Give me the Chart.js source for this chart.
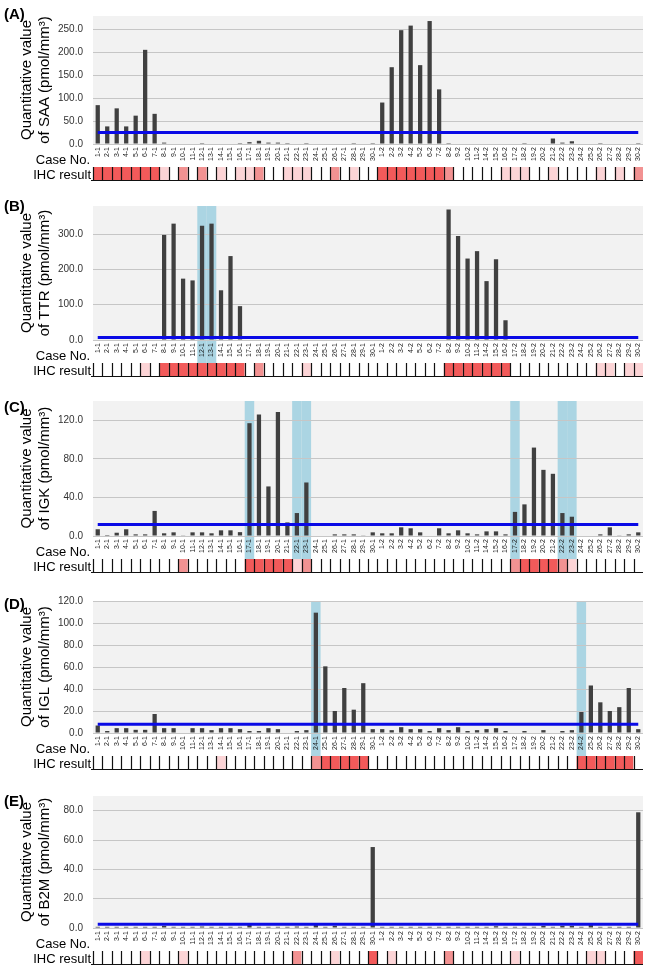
<!DOCTYPE html>
<html>
<head>
<meta charset="utf-8">
<script src="https://cdn.jsdelivr.net/npm/chart.js@4"></script>
<style>
  body { margin: 0; background: #fff; }
  #wrap { position: relative; width: 650px; height: 970px; }
  canvas { position: absolute; left: 0; }
</style>
</head>
<body>
<div id="wrap">
  <canvas id="panelA" width="650" height="190" style="top:0px"></canvas>
  <canvas id="panelB" width="650" height="195" style="top:190px"></canvas>
  <canvas id="panelC" width="650" height="200" style="top:385px"></canvas>
  <canvas id="panelD" width="650" height="195" style="top:585px"></canvas>
  <canvas id="panelE" width="650" height="190" style="top:780px"></canvas>
</div>
<script>
// case numbers (12-2 and 13-2 are not in the series)
const cases = [
  '1-1','2-1','3-1','4-1','5-1','6-1','7-1','8-1','9-1','10-1',
  '11-1','12-1','13-1','14-1','15-1','16-1','17-1','18-1','19-1','20-1',
  '21-1','22-1','23-1','24-1','25-1','26-1','27-1','28-1','29-1','30-1',
  '1-2','2-2','3-2','4-2','5-2','6-2','7-2','8-2','9-2','10-2',
  '11-2','14-2','15-2','16-2','17-2','18-2','19-2','20-2','21-2','22-2',
  '23-2','24-2','25-2','26-2','27-2','28-2','29-2','30-2'
];

// quantitative values (pmol/mm3)
const saa = [85, 38.5, 78, 38.5, 62, 206, 66, 3, 0, 0, 0, 2, 0, 0, 0, 2, 4, 7, 3, 3, 2, 0, 2, 0, 0, 0, 0, 2, 0, 2,
  90.7, 168, 249, 259, 172.5, 269, 119.5, 2, 0, 0, 0, 0, 0, 0, 0, 2, 0, 0, 12, 3, 6, 0, 0, 2, 0, 0, 0, 2];
const ttr = [0, 0, 0, 0, 0, 1.5, 0, 298, 330, 174, 169, 324, 330, 141, 238, 96,
  0, 0, 0, 0, 0, 1.5, 1.5, 0, 0, 1.5, 0, 1.5, 1.5, 0,
  0, 0, 0, 0, 0, 0, 0, 370, 295, 231, 252, 167, 229, 56,
  0, 0, 1.5, 1.5, 0, 1.5, 1.5, 1.5, 0, 0, 1.5, 1.5, 1.5, 0];
const igk = [7, 1, 3.4, 7, 1.7, 1.7, 26, 2.8, 3.8, 0.7, 3.8, 3.8, 2.8, 5.9, 5.9, 4, 117, 126, 51.4, 128.6, 14.1, 23.8, 55.5, 0,
  0, 1.7, 1.7, 1.7, 0.7, 3.8, 2.8, 2.8, 9, 8, 3.8, 0, 8, 2.8, 5.9, 2.8, 1.7, 4.8, 4.8, 1.7,
  25, 32.8, 91.7, 68.6, 64.5, 23.8, 20, 0, 0, 1.7, 9, 0.7, 1.7, 3.8];
const igl = [6.8, 1.8, 4.4, 4.4, 2.9, 2.9, 17.3, 4.4, 4.4, 0, 4.4, 4.4, 2.6, 4.4, 4.4, 3.5, 1.8, 1.8, 4.4, 3.5, 0, 1.8, 2.6, 109.4,
  60.6, 20, 40.9, 21.2, 45.3, 3.5, 3.5, 2.6, 5.3, 3.5, 3.5, 1.8, 4.4, 2.6, 5.3, 1.8, 2.6, 3.5, 4.4, 1.8,
  0, 1.8, 0, 2.6, 0, 1.8, 2.6, 19.1, 43.2, 27.9, 20, 23.5, 40.9, 3.5];
const b2m = [0.8, 0.8, 0.8, 0.8, 0.8, 0.8, 0.8, 1.5, 0.8, 0.8, 0.8, 1, 0.8, 0.8, 0.8, 0.8, 2, 0.8, 0.8, 0.8,
  0.8, 1, 0.8, 2, 0.8, 1.5, 0.8, 0.8, 0.8, 55.2,
  0.8, 0.8, 0.8, 0.8, 0.8, 0.8, 0.8, 0.8, 0.8, 0.8, 0.8, 0.8, 1.2, 0.8, 0.8, 0.8, 0.8, 1.5, 0.8, 1.5,
  1.5, 0.8, 2, 0.8, 0.8, 0.8, 0.8, 78.9];

// cut-off values (blue lines)
const cutSAA = 25, cutTTR = 7, cutIGK = 12, cutIGL = 8, cutB2M = 2.5;

// IHC result per case: 0 none, 1 weak, 2 moderate, 3 strong
const ihcSAA = [3,3,3,3,3,3,3,1,0,2, 0,2,0,1,0,1,1,2,0,0, 1,1,1,0,0,2,0,1,0,0,
  3,3,3,3,3,3,3,2,0,0, 0,0,0,1,1,1,0,0,1,0, 0,0,0,1,0,1,0,2];
const ihcTTR = [0,0,0,0,0,1,0,3,3,3, 3,3,3,3,3,3,0,2,0,0, 0,0,1,0,0,0,0,0,0,0,
  0,0,0,0,0,0,0,3,3,3, 3,3,3,3,0,0,0,0,0,0, 0,0,0,1,1,0,1,1];
const ihcIGK = [0,0,0,0,0,0,0,0,0,2, 0,0,0,0,0,0,3,3,3,3, 3,1,2,0,0,0,0,0,0,0,
  0,0,0,0,0,0,0,0,0,0, 0,0,0,0,2,3,3,3,3,2, 1,0,0,0,0,0,0,0];
const ihcIGL = [0,0,0,0,0,0,0,0,0,0, 0,0,0,1,0,0,0,0,0,0, 0,0,0,2,3,3,3,3,3,0,
  0,0,0,0,0,0,0,0,0,0, 0,0,0,0,0,0,0,0,0,0, 0,3,3,3,3,3,3,0];
const ihcB2M = [0,0,0,0,0,1,0,0,0,1, 0,0,0,0,0,0,0,0,0,0, 0,2,0,0,0,1,0,0,0,3,
  0,1,0,0,0,0,0,2,0,0, 0,0,0,0,1,0,0,0,0,0, 0,0,1,1,0,0,0,3];

// highlighted cases (index into cases)
const markTTR = [11, 12];
const markIGK = [16, 21, 22, 44, 49, 50];
const markIGL = [23, 51];

const ihcColors = ['#ffffff', '#fcd4d6', '#f29292', '#f25a5a'];

Chart.defaults.font.family = '"Liberation Sans", Arial, sans-serif';

function buildPanel(id, p) {
  const decor = {
    id: 'decor',
    beforeDraw(chart) {
      const { ctx, chartArea: ca } = chart;
      const x = chart.scales.x;
      const band = (ca.right - ca.left) / cases.length;
      ctx.save();
      ctx.fillStyle = '#f2f2f2';
      ctx.fillRect(ca.left, ca.top, ca.right - ca.left, ca.bottom - ca.top);
      ctx.fillStyle = '#abd5e3';
      p.marks.forEach(i => {
        ctx.fillRect(x.getPixelForValue(i) - band / 2, ca.top, band, ca.bottom - ca.top + 23);
      });
      ctx.restore();
    },
    afterDraw(chart) {
      const { ctx, chartArea: ca } = chart;
      const x = chart.scales.x;
      const band = (ca.right - ca.left) / cases.length;
      const top = ca.bottom + 23, h = 13;
      ctx.save();
      p.ihc.forEach((v, i) => {
        ctx.fillStyle = ihcColors[v];
        ctx.fillRect(x.getPixelForValue(i) - band / 2, top, band, h);
      });
      ctx.strokeStyle = '#111';
      ctx.lineWidth = 1.2;
      ctx.beginPath();
      p.ihc.forEach((v, i) => {
        const lx = Math.round(x.getPixelForValue(i) - band / 2) + 0.5;
        ctx.moveTo(lx, top);
        ctx.lineTo(lx, top + h);
      });
      ctx.moveTo(91, top + h + 0.5);
      ctx.lineTo(ca.right, top + h + 0.5);
      ctx.stroke();

      ctx.fillStyle = '#000';
      ctx.textAlign = 'right';
      ctx.textBaseline = 'middle';
      ctx.font = '13px "Liberation Sans", Arial, sans-serif';
      ctx.fillText('Case No.', 90, ca.bottom + 16);
      ctx.fillText('IHC result', 91, ca.bottom + 31);
      ctx.textAlign = 'left';
      ctx.font = 'bold 15px "Liberation Sans", Arial, sans-serif';
      ctx.fillText(p.letter, 4, p.letterY);
      ctx.restore();
    }
  };

  new Chart(document.getElementById(id), {
    type: 'bar',
    data: {
      labels: cases,
      datasets: [
        {
          type: 'line',
          data: cases.map(() => p.cut),
          borderColor: '#0a0ae6',
          borderWidth: 3,
          pointRadius: 0,
          order: 0
        },
        {
          data: p.values,
          backgroundColor: '#404040',
          barPercentage: 0.45,
          categoryPercentage: 1.0,
          order: 1
        }
      ]
    },
    options: {
      responsive: false,
      animation: false,
      layout: { padding: { top: p.padTop, bottom: p.padBottom, left: 0, right: 7 } },
      plugins: { legend: { display: false }, tooltip: { enabled: false } },
      scales: {
        x: {
          afterFit: s => { s.height = 22; },
          grid: { display: false, drawTicks: false },
          border: { display: false },
          ticks: {
            autoSkip: false, minRotation: 90, maxRotation: 90, padding: 3,
            color: '#222', font: { size: 7 }
          }
        },
        y: {
          min: 0, max: p.max,
          afterFit: s => { s.width = 93; },
          afterBuildTicks: s => { s.ticks = s.ticks.filter(t => t.value % p.step === 0); },
          grid: { color: '#c6c6c6', drawTicks: false },
          border: { display: false },
          ticks: {
            stepSize: p.step, padding: 10, color: '#333', font: { size: 10 },
            callback: v => v.toFixed(1)
          },
          title: {
            display: true,
            text: ['Quantitative value', 'of ' + p.name + ' (pmol/mm\u00b3)'],
            color: '#000', font: { size: 15 },
            padding: { top: 18, bottom: 0 }
          }
        }
      }
    },
    plugins: [decor]
  });
}

buildPanel('panelA', { name: 'SAA', letter: '(A)', letterY: 15, values: saa, cut: cutSAA, ihc: ihcSAA, marks: [],
  max: 280, step: 50, padTop: 7, padBottom: 24 });
buildPanel('panelB', { name: 'TTR', letter: '(B)', letterY: 17, values: ttr, cut: cutTTR, ihc: ihcTTR, marks: markTTR,
  max: 380, step: 100, padTop: 15, padBottom: 23 });
buildPanel('panelC', { name: 'IGK', letter: '(C)', letterY: 23, values: igk, cut: cutIGK, ihc: ihcIGK, marks: markIGK,
  max: 140, step: 40, padTop: 16, padBottom: 27 });
buildPanel('panelD', { name: 'IGL', letter: '(D)', letterY: 20, values: igl, cut: cutIGL, ihc: ihcIGL, marks: markIGL,
  max: 120, step: 20, padTop: 12, padBottom: 25 });
buildPanel('panelE', { name: 'B2M', letter: '(E)', letterY: 22, values: b2m, cut: cutB2M, ihc: ihcB2M, marks: [],
  max: 90, step: 20, padTop: 15, padBottom: 20 });
</script>
</body>
</html>
